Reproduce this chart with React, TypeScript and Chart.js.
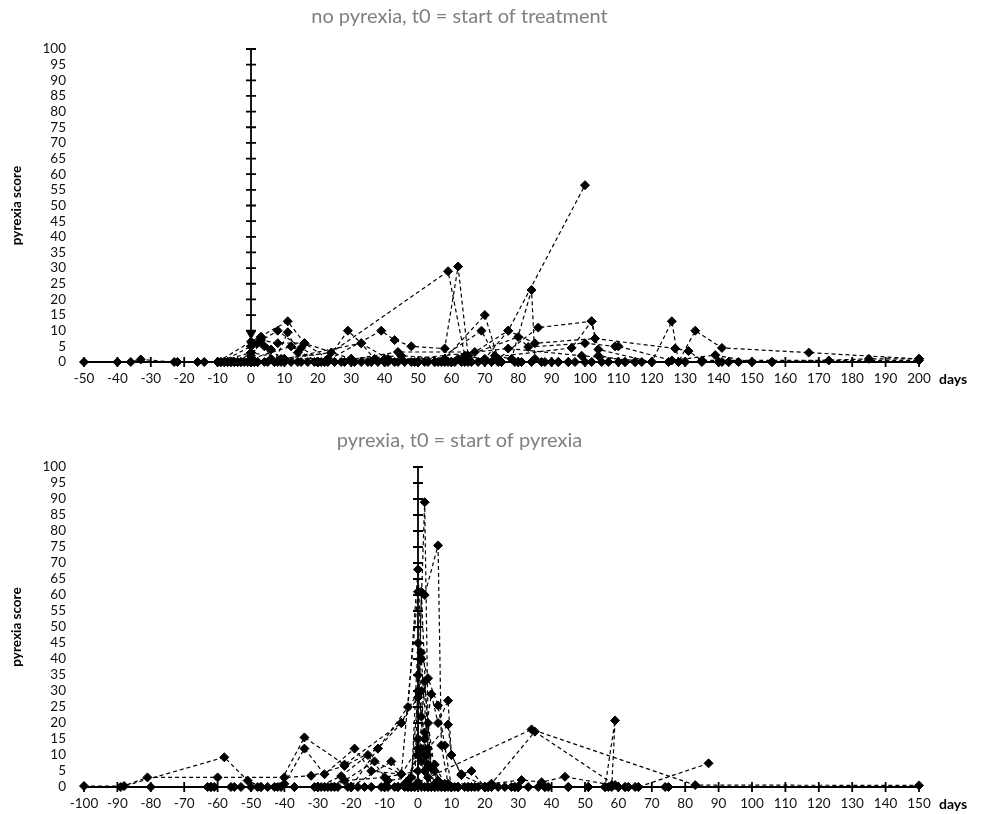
import React, { useEffect, useRef } from "react";
import { Chart, registerables } from "chart.js";

Chart.register(...registerables);

type P = [number, number];

const FONT = 'Lato, "Open Sans", "Noto Sans", sans-serif';

const topTitle = "no pyrexia, t0 = start of treatment";
const bottomTitle = "pyrexia, t0 = start of pyrexia";
const yAxisTitle = "pyrexia score";
const xAxisTitle = "days";
const topXRange: P = [-50, 200];
const bottomXRange: P = [-100, 150];
const yRange: P = [0, 100];
const xStep = 10;
const yStep = 5;

// ---------- top panel (no pyrexia) : [day, score] ----------
const topZeroDaysA = [-10, -9, -8, -7, -6, -5, -4, -3, -2, -1, 0, 1, 2, 4, 5, 7, 9, 10, 12, 14, 15, 17, 19, 20, 21, 22];
const topZeroDaysB = [23, 25, 27, 28, 30, 31, 33, 35, 36, 38, 40, 41, 43, 44, 46, 48, 49, 50, 52, 53, 55, 56, 57, 59, 60, 61, 63, 64, 65];
const topZeroDaysC = [66, 68, 70, 72, 74, 75, 79, 80, 81, 84, 87, 88, 90, 92, 95, 97, 100, 102, 105, 107, 110, 112, 115, 117, 120, 125, 128, 130, 135, 141, 143, 146, 150, 156];

const top01: P[] = [[-50, 0], [-40, 0], [-36, 0], [-33, 0.8], [-23, 0], [-22, 0], [-16, 0], [-14, 0], [-10, 0], [0, 3], [3, 8], [6, 4], [9, 1], [24, 3], [59, 29], [64, 2], [75, 0], [95, 0], [112, 0]];
const top02: P[] = [[-10, 0], [0, 6.5], [11, 13], [16, 6], [23, 1], [29, 10], [33, 6], [41, 1], [50, 0], [58, 0]];
const top03: P[] = [[-9, 0], [0, 5], [8, 10], [15, 4.5], [22, 0], [39, 10], [43, 7], [48, 5], [58, 4.3], [62, 30.5], [65, 2], [72, 0]];
const top04: P[] = [[-8, 0], [0, 1], [12, 5], [20, 0], [40, 1], [58, 1], [70, 15], [74, 1], [86, 11], [102, 13], [104, 2], [115, 0], [140, 0]];
const top05: P[] = [[-7, 0], [0, 0], [10, 1], [30, 1], [55, 0], [69, 10], [73, 2], [78, 1], [84, 23], [85, 1], [92, 0]];
const top06: P[] = [[-6, 0], [1, 0], [20, 0], [50, 0], [70, 1], [77, 10], [100, 56.5]];
const top07: P[] = [[-5, 0], [0, 2], [3, 7], [8, 6], [16, 6], [30, 1], [45, 2], [62, 1], [80, 8], [83, 4.8], [100, 6], [109, 5], [110, 5], [126, 0.5], [139, 2.2], [150, 0]];
const top08: P[] = [[-4, 0], [0, 3], [10, 1], [33, 6], [37, 1], [60, 0], [96, 4.5], [102, 13], [104, 4], [120, 0], [126, 13], [128, 0], [133, 10], [141, 4.5], [167, 3], [200, 1]];
const top09: P[] = [[-3, 0], [2, 0], [25, 0], [44, 3.2], [67, 3.2], [77, 10], [85, 6], [103, 7.5], [127, 4.3], [131, 3.5], [135, 0.5], [173, 0.5], [200, 0.5]];
const top10: P[] = [[0, 0], [3, 8], [6, 1], [8, 0]];
const top11: P[] = [[0, 0.5], [2, 6], [4, 5], [7, 0], [11, 9.5], [14, 3], [20, 0]];
const top12: P[] = [[0, 0], [40, 0], [77, 4.3], [99, 2], [120, 0], [143, 0], [156, 0], [185, 1], [200, 1]];
const top13: P[] = [[0, 9]];

const topSeries: P[][] = [top01, top02, top03, top04, top05, top06, top07, top08, top09, top10, top11, top12];
const topZeroSets: number[][] = [topZeroDaysA, topZeroDaysB, topZeroDaysC];

// ---------- bottom panel (pyrexia) : [day, score] ----------
const botZeroDaysA = [-63, -62, -61, -56, -53, -50, -48, -47, -43, -41, -37, -31, -29, -27, -26, -24, -21, -18, -16, -14, -11, -9, -7, -6, -4, -3, -2, -1];
const botZeroDaysB = [1, 2, 3, 4, 5, 6, 7, 8, 9, 10, 11, 12, 14, 15, 17, 18, 20, 21, 22, 24, 26, 28, 29, 30, 33, 36, 38, 39, 45, 51, 56, 57, 60, 62, 63, 65, 66, 74, 75];

const bot01: P[] = [[-100, 0.3], [-88, 0.3], [-58, 9.3], [-51, 2], [-47, 0], [-42, 0], [-34, 15.5], [-22, 7], [-5, 20], [0, 28], [2, 89], [3, 20], [5, 5], [8, 0], [12, 0]];
const bot02: P[] = [[-89, 0], [-81, 3], [-60, 3], [-40, 3], [-32, 3.5], [-22, 6.6], [-12, 12], [-3, 25], [0, 68], [1, 40], [3, 10], [6, 2], [10, 0], [20, 0]];
const bot03: P[] = [[-80, 0], [-62, 0], [-55, 0], [-45, 0], [-40, 1], [-34, 12], [-28, 4], [-19, 12], [-14, 5], [-5, 4], [0, 61], [2, 60], [6, 75.5], [7, 13], [9, 1], [12, 0]];
const bot04: P[] = [[-37, 0], [-30, 0], [-23, 3.4], [-15, 10], [-9, 2], [-2, 3], [1, 42], [3, 34], [6, 25.5], [8, 13], [10, 0], [16, 0], [22, 0]];
const bot05: P[] = [[-28, 0], [-20, 0], [-12, 12], [-5, 20], [0, 30], [2, 15], [4, 29], [6, 20], [9, 27], [10, 10], [13, 4], [16, 5], [20, 0]];
const bot06: P[] = [[-25, 0], [-13, 8], [-5, 4], [0, 12], [1, 61], [3, 12], [9, 19.5], [10, 10], [13, 3.7], [21, 0], [30, 0]];
const bot07: P[] = [[-20, 0], [-8, 8], [-3, 2], [0, 10], [2, 5], [5, 7], [8, 1], [22, 1], [31, 2.2], [37, 1.5], [44, 3.2], [58, 0.6], [60, 0]];
const bot08: P[] = [[-10, 0], [0, 1.5], [34, 18], [83, 0.6], [150, 0.5]];
const bot09: P[] = [[-6, 0], [5, 0], [15, 0], [22, 1], [35, 17.3], [59, 0.6], [62, 0]];
const bot10: P[] = [[45, 0], [51, 0], [56, 0], [59, 20.8], [58, 0], [63, 0]];
const bot11: P[] = [[20, 0], [29, 0], [38, 0], [51, 0], [60, 0], [66, 0], [87, 7.4]];
const bot12: P[] = [[-2, 0], [0, 45], [1, 30], [2, 10], [4, 0]];
const bot13: P[] = [[-1, 0], [0, 35], [1, 22], [2, 5], [3, 0]];
const bot14: P[] = [[-3, 0], [0, 15], [1, 8], [2, 17], [3, 3], [5, 0]];
const bot15: P[] = [[-4, 1], [0, 10], [1, 12], [3, 7], [5, 1], [8, 0]];
const bot16: P[] = [[-30, 0], [-22, 2], [-10, 3], [0, 5], [2, 33], [4, 6], [7, 0]];

const botSeries: P[][] = [bot01, bot02, bot03, bot04, bot05, bot06, bot07, bot08, bot09, bot10, bot11, bot12, bot13, bot14, bot15, bot16];
const botZeroSets: number[][] = [botZeroDaysA, botZeroDaysB];

function lineDataset(points: { x: number; y: number }[]) {
  return {
    data: points,
    showLine: true,
    borderColor: "#000",
    borderWidth: 1.2,
    borderDash: [4, 3],
    pointStyle: "rectRot",
    pointRadius: 4.5,
    pointBackgroundColor: "#000",
    pointBorderColor: "#000",
    pointBorderWidth: 1,
    tension: 0,
    clip: false,
  };
}

function buildDatasets(series: P[][], zeroSets: number[][], extra: P[] | null) {
  const ds: any[] = [];
  zeroSets.forEach((days) => ds.push(lineDataset(days.map((d) => ({ x: d, y: 0 })))));
  series.forEach((s) => ds.push(lineDataset(s.map(([x, y]) => ({ x, y })))));
  if (extra) {
    ds.push({
      data: extra.map(([x, y]) => ({ x, y })),
      showLine: false,
      pointStyle: "triangle",
      rotation: 180,
      pointRadius: 5,
      pointBackgroundColor: "#000",
      pointBorderColor: "#000",
    });
  }
  return ds;
}

const crossAxes = {
  id: "crossAxes",
  beforeDatasetsDraw(chart: any) {
    const { ctx, chartArea, scales } = chart;
    const x = scales.x;
    const y = scales.y;
    const x0 = x.getPixelForValue(0);
    const y0 = y.getPixelForValue(0);
    const yTop = y.getPixelForValue(yRange[1]);
    ctx.save();
    ctx.strokeStyle = "#000";
    ctx.lineWidth = 1.8;
    ctx.beginPath();
    ctx.moveTo(chartArea.left, y0);
    ctx.lineTo(chartArea.right, y0);
    x.ticks.forEach((t: any) => {
      const px = x.getPixelForValue(t.value);
      ctx.moveTo(px, y0 - 5);
      ctx.lineTo(px, y0 + 5);
    });
    ctx.moveTo(x0, yTop);
    ctx.lineTo(x0, y0);
    y.ticks.forEach((t: any) => {
      const py = y.getPixelForValue(t.value);
      ctx.moveTo(x0 - 5, py);
      ctx.lineTo(x0 + 5, py);
    });
    ctx.stroke();
    ctx.restore();
  },
  afterDraw(chart: any) {
    const { ctx, chartArea, scales } = chart;
    const y0 = scales.y.getPixelForValue(0);
    ctx.save();
    ctx.font = `bold 14px ${FONT}`;
    ctx.fillStyle = "#000";
    ctx.textAlign = "left";
    ctx.textBaseline = "middle";
    ctx.fillText(xAxisTitle, chartArea.right + 20, y0 + 17);
    ctx.restore();
  },
};

function makeConfig(
  title: string,
  xr: P,
  datasets: any[],
  titlePad: { top: number; bottom: number },
  bottomPad: number,
  xHeight: number
): any {
  return {
    type: "scatter",
    data: { datasets },
    options: {
      animation: false,
      responsive: false,
      maintainAspectRatio: false,
      layout: { padding: { left: 0, right: 68, top: 0, bottom: bottomPad } },
      plugins: {
        legend: { display: false },
        tooltip: { enabled: false },
        title: {
          display: true,
          text: title,
          color: "#808080",
          font: { family: FONT, size: 20, weight: "normal" },
          padding: titlePad,
        },
      },
      scales: {
        x: {
          type: "linear",
          min: xr[0],
          max: xr[1],
          grid: { display: false, drawTicks: false },
          border: { display: false },
          ticks: {
            stepSize: xStep,
            autoSkip: false,
            maxRotation: 0,
            minRotation: 0,
            padding: 9,
            color: "#111",
            font: { family: FONT, size: 13.5 },
          },
          afterFit(s: any) {
            s.height = xHeight;
          },
        },
        y: {
          type: "linear",
          min: yRange[0],
          max: yRange[1],
          grid: { display: false, drawTicks: false },
          border: { display: false },
          ticks: {
            stepSize: yStep,
            autoSkip: false,
            padding: 18,
            color: "#111",
            font: { family: FONT, size: 13.5 },
          },
          title: {
            display: true,
            text: yAxisTitle,
            color: "#000",
            font: { family: FONT, size: 13.5, weight: "bold" },
            padding: { top: 9, bottom: 0 },
          },
          afterFit(s: any) {
            s.width = 84;
          },
        },
      },
    },
    plugins: [crossAxes],
  };
}

function Panel(props: { cfg: () => any; top: number; height: number }) {
  const ref = useRef<HTMLCanvasElement | null>(null);
  useEffect(() => {
    if (!ref.current) return;
    const chart = new Chart(ref.current, props.cfg());
    return () => chart.destroy();
  }, []);
  return (
    <canvas
      ref={ref}
      width={987}
      height={props.height}
      style={{ position: "absolute", left: 0, top: props.top, width: 987, height: props.height, display: "block" }}
    />
  );
}

export default function App() {
  const topCfg = () =>
    makeConfig(topTitle, topXRange, buildDatasets(topSeries, topZeroSets, top13), { top: 5, bottom: 20 }, 23, 30);
  const botCfg = () =>
    makeConfig(bottomTitle, bottomXRange, buildDatasets(botSeries, botZeroSets, null), { top: 9, bottom: 14 }, 0, 27);
  return (
    <div style={{ position: "absolute", left: 0, top: 0, width: 987, height: 814, background: "#fff" }}>
      <Panel cfg={topCfg} top={0} height={415} />
      <Panel cfg={botCfg} top={420} height={394} />
    </div>
  );
}
